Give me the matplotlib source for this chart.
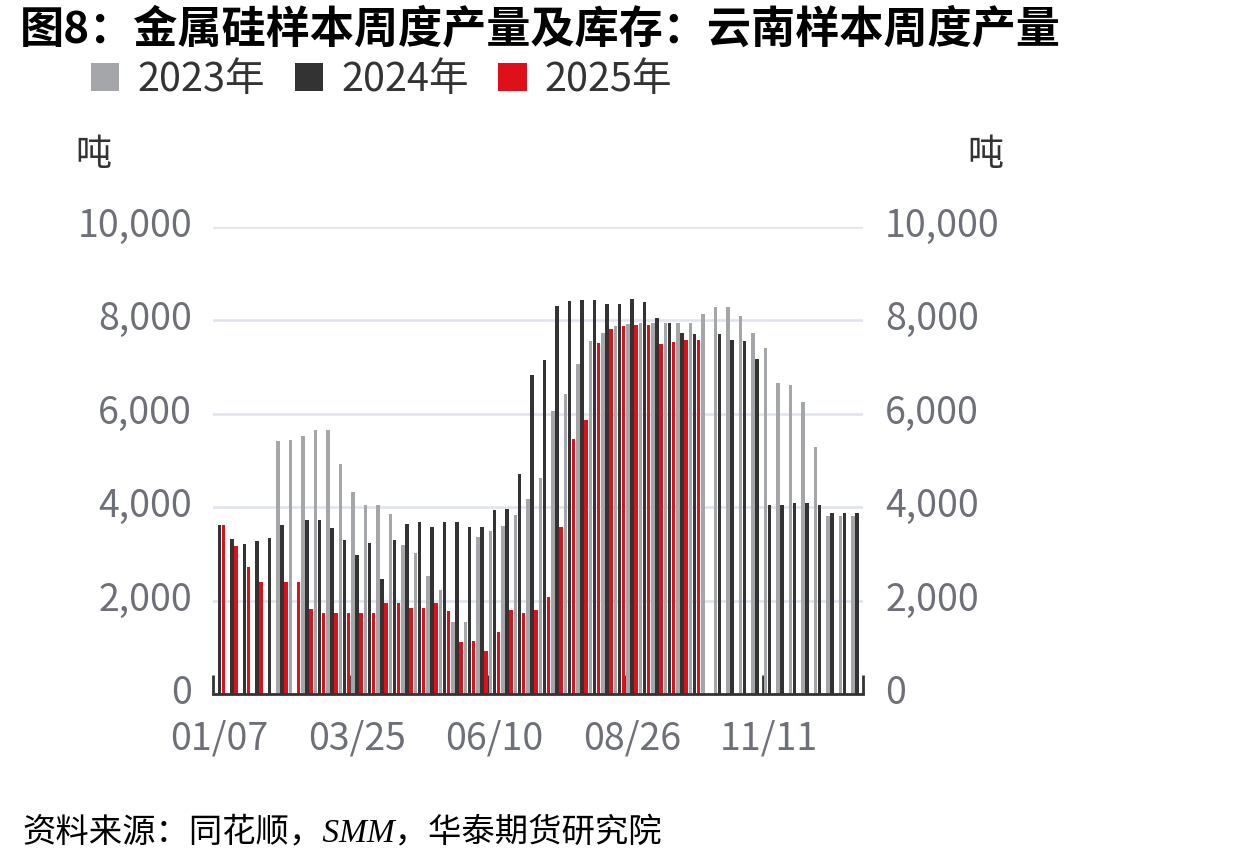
import numpy as np
import pandas as pd
import matplotlib
matplotlib.use("Agg")
import matplotlib.pyplot as plt
import matplotlib.transforms as mtransforms
from matplotlib.patches import Patch

plt.rcParams['font.family'] = ['Noto Sans CJK SC', 'DejaVu Sans']
plt.rcParams['axes.unicode_minus'] = False

# ---- data (tonnes, weekly) ----
weeks = [d.strftime('%m/%d') for d in pd.date_range('2023-01-07', periods=52, freq='7D')]
tick_labels = ['01/07', '03/25', '06/10', '08/26', '11/11']

y2023 = [np.nan, np.nan, np.nan, np.nan, np.nan, 5410, 5440, 5520, 5660, 5660,
         4930, 4320, 4050, 4050, 3850, 3180, 3020, 2520, 2230, 1540,
         1540, 3360, 3500, 3600, 3840, 4180, 4620, 6060, 6420, 7070,
         7550, 7730, 7880, 7930, 7950, 7950, 7950, 7950, 7950, 8140,
         8280, 8280, 8090, 7720, 7400, 6670, 6620, 6250, 5290, 3810,
         3810, 3810]
y2024 = [3620, 3320, 3220, 3280, 3330, 3620, np.nan, 3730, 3730, 3550,
         3300, 2980, 3240, 2460, 3300, 3640, 3680, 3570, 3680, 3680,
         3570, 3570, 3940, 3970, 4720, 6830, 7150, 8300, 8420, 8430,
         8430, 8360, 8350, 8450, 8400, 8050, 7950, 7720, 7700, np.nan,
         7700, 7580, 7560, 7170, 4050, 4050, 4080, 4080, 4050, 3870,
         3870, 3870]
y2025 = [3620, 3170, 2730, 2400, np.nan, 2400, 2400, 1830, 1730, 1730,
         1730, 1730, 1730, 1940, 1940, 1850, 1850, 1940, 1770, 1110,
         1140, 930, 1320, 1800, 1730, 1800, 2070, 3570, 5450, 5860,
         7520, 7820, 7890, 7900, 7900, 7500, 7530, 7570, 7570] + [np.nan] * 13

series_names = ['2023年', '2024年', '2025年']
colors = ['#a4a6a9', '#333333', '#e0101b']

W, H = 1240, 866
fig = plt.figure(figsize=(W / 100, H / 100), dpi=100)
ax = fig.add_axes([213 / W, (H - 694) / H, (863 - 213) / W, (694 - 227) / H])

x = np.arange(len(weeks))
offsets = [-0.30, 0.03, 0.35]
bw = 0.27
for vals, off, c in zip([y2023, y2024, y2025], offsets, colors):
    ax.bar(x + off, np.array(vals, dtype=float), width=bw, color=c, linewidth=0, zorder=3)

ax.set_xlim(-0.5, len(weeks) - 0.5)
ax.set_ylim(0, 10000)
yt = [0, 2000, 4000, 6000, 8000, 10000]
ax.set_yticks(yt)
ax.set_yticklabels([f'{v:,}' for v in yt])
ax.grid(axis='y', color='#dfe3ee', linewidth=1.8, zorder=0)
ax.set_axisbelow(True)

tick_pos = [weeks.index(t) for t in tick_labels]
ax.set_xticks(tick_pos)
ax.set_xticklabels(tick_labels)
ax.set_xticks([p - 0.5 for p in tick_pos] + [len(weeks) - 0.5], minor=True)
ax.tick_params(axis='x', which='major', length=0, pad=18, labelsize=27, labelcolor='#6e7079')
ax.tick_params(axis='x', which='minor', direction='in', length=14, width=2, color='#333333')
ax.tick_params(axis='y', length=0, pad=15, labelsize=27, labelcolor='#6e7079')

for s in ['top', 'right', 'left']:
    ax.spines[s].set_visible(False)
ax.spines['bottom'].set_color('#333333')
ax.spines['bottom'].set_linewidth(2)
ax.spines['bottom'].set_zorder(5)

ax2 = ax.twinx()
ax2.set_ylim(0, 10000)
ax2.set_yticks(yt)
ax2.set_yticklabels([f'{v:,}' for v in yt])
ax2.tick_params(axis='y', length=0, pad=16, labelsize=27, labelcolor='#6e7079')
for s in ax2.spines.values():
    s.set_visible(False)

# nudge y tick labels up slightly
up = mtransforms.ScaledTranslation(0, 5 / 100, fig.dpi_scale_trans)
for a in (ax, ax2):
    for lbl in a.get_yticklabels():
        lbl.set_transform(lbl.get_transform() + up)

# units
fig.text(93 / W, 1 - 155 / H, '吨', ha='center', va='center', fontsize=26, color='#333333')
fig.text(985 / W, 1 - 155 / H, '吨', ha='center', va='center', fontsize=26, color='#333333')

# title
fig.text(20 / W, 1 - 30 / H, '图8：金属硅样本周度产量及库存：云南样本周度产量',
         ha='left', va='center', fontsize=31.8, fontweight='bold', color='#000000')

# legend
handles = [Patch(facecolor=c, edgecolor='none') for c in colors]
fig.legend(handles, series_names, loc='center left', bbox_to_anchor=(91 / W, 1 - 80 / H),
           ncol=3, frameon=False, fontsize=28.5, handlelength=0.72, handleheight=0.72,
           handletextpad=0.45, columnspacing=0.75, borderpad=0, borderaxespad=0,
           labelcolor='#333333')

# source
fig.text(22 / W, 1 - 833 / H, '资料来源：同花顺，SMM，华泰期货研究院',
         ha='left', va='center', fontsize=24, fontstyle='italic',
         family=['Liberation Serif', 'Noto Sans CJK SC'], color='#000000')

fig.savefig('out.png', dpi=100, facecolor='white')
